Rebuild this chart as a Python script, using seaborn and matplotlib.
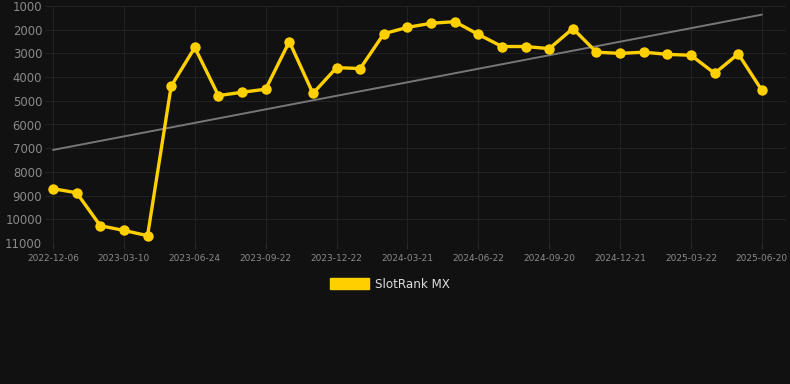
import matplotlib
matplotlib.use("Agg")
import matplotlib.pyplot as plt
import matplotlib.patches as mpatches
import numpy as np
import pandas as pd
import seaborn as sns

tick_dates = ["2022-12-06", "2023-03-10", "2023-06-24", "2023-09-22", "2023-12-22",
              "2024-03-21", "2024-06-22", "2024-09-20", "2024-12-21", "2025-03-22",
              "2025-06-20"]
rank = [8710, 8880, 10270, 10470, 10690, 4380, 2750, 4780, 4640, 4510,
        2500, 4690, 3600, 3640, 2170, 1900, 1730, 1660, 2200, 2710,
        2710, 2800, 1950, 2950, 3000, 2950, 3040, 3080, 3840, 3020, 4560]
series_name = "SlotRank MX"

df = pd.DataFrame({"idx": np.arange(len(rank)), "rank": rank})

sns.set_theme(style="dark")
plt.rcParams['font.family'] = ['DejaVu Sans']

bg = "#111111"
fig = plt.figure(figsize=(7.9, 3.84), dpi=100, facecolor=bg)
ax = fig.add_axes([45/790, (384-243)/384, (786-45)/790, (243-6)/384])
ax.set_facecolor(bg)

sns.regplot(data=df, x="idx", y="rank", scatter=False, ci=None, ax=ax,
            line_kws=dict(color="#777777", lw=1.4), truncate=True)
sns.lineplot(data=df, x="idx", y="rank", ax=ax, color="#FFD000", lw=2.4,
             marker="o", markersize=7.5, markeredgewidth=0, zorder=3)

ax.set_xlim(-0.34, 31.02)
ax.set_ylim(11000, 1000)
ax.set_yticks(np.arange(1000, 11001, 1000))
ax.set_yticklabels([str(v) for v in range(1000, 11001, 1000)])
ax.set_xticks(np.arange(0, len(rank), 3))
ax.set_xticklabels(tick_dates)
ax.tick_params(axis="y", colors="#8a8a8a", labelsize=8.4, length=0, pad=2)
ax.tick_params(axis="x", colors="#8a8a8a", labelsize=6.5, length=4, width=0.8,
               direction="out", pad=4, bottom=True)
ax.tick_params(axis="x", color="#2a2a2a")
for lab in ax.get_xticklabels():
    lab.set_color("#8a8a8a")
for lab in ax.get_yticklabels():
    lab.set_color("#8a8a8a")
ax.grid(True, color="#222222", lw=0.8)
for s in ax.spines.values():
    s.set_visible(False)
ax.set_xlabel("")
ax.set_ylabel("")

handle = mpatches.Patch(color="#FFD000", label=series_name)
leg = fig.legend(handles=[handle], loc="center", bbox_to_anchor=(390/790, 1 - 284/384),
                 frameon=False, fontsize=8.6, handlelength=3.3, handleheight=0.95,
                 handletextpad=0.5)
for t in leg.get_texts():
    t.set_color("#dddddd")

fig.savefig("out.png", dpi=100, facecolor=bg)
